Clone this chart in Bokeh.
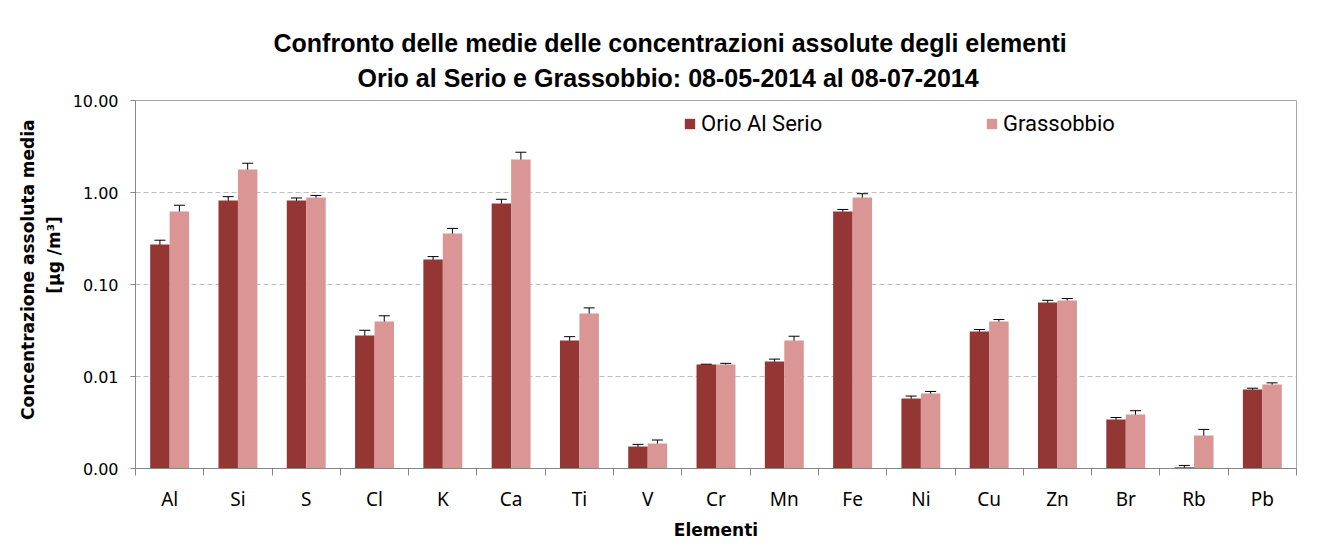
from bokeh.plotting import figure
from bokeh.models import (ColumnDataSource, FixedTicker, PrintfTickFormatter, Whisker, TeeHead,
                          Legend, LegendItem, Title)
from bokeh.transform import dodge
from bokeh.embed import file_html
from bokeh.resources import INLINE

# ---- data ----
elements = ["Al", "Si", "S", "Cl", "K", "Ca", "Ti", "V", "Cr", "Mn", "Fe", "Ni", "Cu", "Zn", "Br", "Rb", "Pb"]
orio = [0.272, 0.818, 0.82, 0.0279, 0.187, 0.759, 0.0246, 0.00173, 0.0135, 0.01455, 0.621,
        0.00577, 0.0308, 0.0637, 0.00341, 0.00103, 0.00722]
orio_err = [0.031, 0.083, 0.052, 0.0039, 0.014, 0.085, 0.0025, 0.0001, 0.0001, 0.0009, 0.033,
            0.00036, 0.0016, 0.0036, 0.00017, 0.00005, 0.00024]
grass = [0.62, 1.78, 0.88, 0.0396, 0.358, 2.28, 0.0484, 0.00187, 0.0135, 0.0246, 0.88,
         0.00654, 0.0396, 0.067, 0.00386, 0.00228, 0.00818]
grass_err = [0.107, 0.30, 0.049, 0.0061, 0.049, 0.46, 0.0073, 0.00017, 0.0004, 0.0028, 0.09,
             0.00034, 0.002, 0.0034, 0.00039, 0.00038, 0.00035]
series_names = ["Orio Al Serio", "Grassobbio"]
y_ticks = [0.001, 0.01, 0.1, 1, 10]
title_lines = ["Confronto delle medie delle concentrazioni assolute degli elementi",
               "Orio al Serio e Grassobbio:  08-05-2014 al 08-07-2014"]
y_label_lines = ["Concentrazione  assoluta media", "[\u03bcg /m\u00b3]"]

C_ORIO = "#943634"
C_GRASS = "#D99694"
AXIS_C = "#868686"

idx = list(range(len(elements)))
src = ColumnDataSource(dict(
    x=idx,
    orio=orio,
    orio_lo=[v - e for v, e in zip(orio, orio_err)],
    orio_hi=[v + e for v, e in zip(orio, orio_err)],
    grass=grass,
    grass_lo=[v - e for v, e in zip(grass, grass_err)],
    grass_hi=[v + e for v, e in zip(grass, grass_err)],
))

p = figure(width=1334, height=554, y_axis_type="log",
           x_range=(-0.5, len(elements) - 0.5), y_range=(y_ticks[0], y_ticks[-1]),
           output_backend="svg", toolbar_location=None, title=None,
           min_border_left=135, min_border_right=38, min_border_top=100, min_border_bottom=86)
p.background_fill_color = "white"
p.border_fill_color = "white"
p.outline_line_color = "#A6A6A6"

off = 0.1425
bw = 0.285
r1 = p.vbar(x=dodge("x", -off, range=p.x_range), top="orio", bottom=y_ticks[0], width=bw,
            source=src, fill_color=C_ORIO, line_color=None)
r2 = p.vbar(x=dodge("x", off, range=p.x_range), top="grass", bottom=y_ticks[0], width=bw,
            source=src, fill_color=C_GRASS, line_color=None)

for key, d in (("orio", -off), ("grass", off)):
    w = Whisker(base=dodge("x", d, range=p.x_range), upper=key + "_hi", lower=key + "_lo", source=src,
                line_color="black", line_width=1,
                upper_head=TeeHead(size=11, line_color="black", line_width=1),
                lower_head=TeeHead(size=11, line_color="black", line_width=1))
    p.add_layout(w)

# y axis
p.yaxis.ticker = FixedTicker(ticks=y_ticks)
p.yaxis.formatter = PrintfTickFormatter(format="%.2f")
p.yaxis.minor_tick_line_color = None
p.yaxis.major_tick_in = 0
p.yaxis.major_tick_out = 5
p.yaxis.major_tick_line_color = AXIS_C
p.yaxis.axis_line_color = AXIS_C
p.yaxis.major_label_text_font = "DejaVu Sans"
p.yaxis.major_label_text_font_size = "16px"
p.yaxis.major_label_text_color = "black"
p.yaxis.major_label_standoff = 12
# leading no-break spaces lift the (rotated) label slightly above the frame centre, as in the original
p.yaxis.axis_label = "\u00a0" * 6 + y_label_lines[0] + "\n" + "\u00a0" * 10 + y_label_lines[1]
p.yaxis.axis_label_text_font = "DejaVu Sans"
p.yaxis.axis_label_text_font_style = "bold"
p.yaxis.axis_label_text_font_size = "17px"
p.yaxis.axis_label_text_color = "black"
p.yaxis.axis_label_text_line_height = 1.3
p.yaxis.axis_label_standoff = 6

p.ygrid.ticker = FixedTicker(ticks=y_ticks[1:-1])
p.ygrid.grid_line_color = "#BFBFBF"
p.ygrid.grid_line_dash = "5 3"
p.xgrid.grid_line_color = None

# x axis
p.xaxis.ticker = FixedTicker(ticks=idx, minor_ticks=[i - 0.5 for i in range(len(elements) + 1)])
p.xaxis.major_label_overrides = {i: e for i, e in zip(idx, elements)}
p.xaxis.major_tick_line_color = None
p.xaxis.major_tick_in = 0
p.xaxis.major_tick_out = 0
p.xaxis.minor_tick_line_color = AXIS_C
p.xaxis.minor_tick_in = 0
p.xaxis.minor_tick_out = 7
p.xaxis.axis_line_color = AXIS_C
p.xaxis.major_label_text_font = "Noto Sans"
p.xaxis.major_label_text_font_size = "19px"
p.xaxis.major_label_text_color = "black"
p.xaxis.major_label_standoff = 10
p.xaxis.axis_label = "Elementi"
p.xaxis.axis_label_text_font = "DejaVu Sans"
p.xaxis.axis_label_text_font_style = "bold"
p.xaxis.axis_label_text_font_size = "17px"
p.xaxis.axis_label_text_color = "black"
p.xaxis.axis_label_standoff = 5

# legends (two separate single-item legends, horizontally placed)
for name, r, x in ((series_names[0], r1, 548), (series_names[1], r2, 850)):
    lg = Legend(items=[LegendItem(label=name, renderers=[r])], location=(x, 332),
                padding=0, margin=0, border_line_color=None, background_fill_alpha=0,
                glyph_width=13, glyph_height=13, label_standoff=5,
                label_text_font="Roboto", label_text_font_size="22px", label_text_color="black")
    p.add_layout(lg)

# title: two lines, left offsets chosen so each line is centred on the canvas
p.add_layout(Title(text=title_lines[1], align="left", offset=222, standoff=14, vertical_align="top",
                   text_font="Liberation Sans", text_font_style="bold", text_line_height=1.0,
                   text_font_size="25px", text_color="black"), "above")
p.add_layout(Title(text=title_lines[0], align="left", offset=138, standoff=0, vertical_align="bottom",
                   text_font="Liberation Sans", text_font_style="bold", text_line_height=1.0,
                   text_font_size="25px", text_color="black"), "above")

open("out.html", "w").write(file_html(p, INLINE))
